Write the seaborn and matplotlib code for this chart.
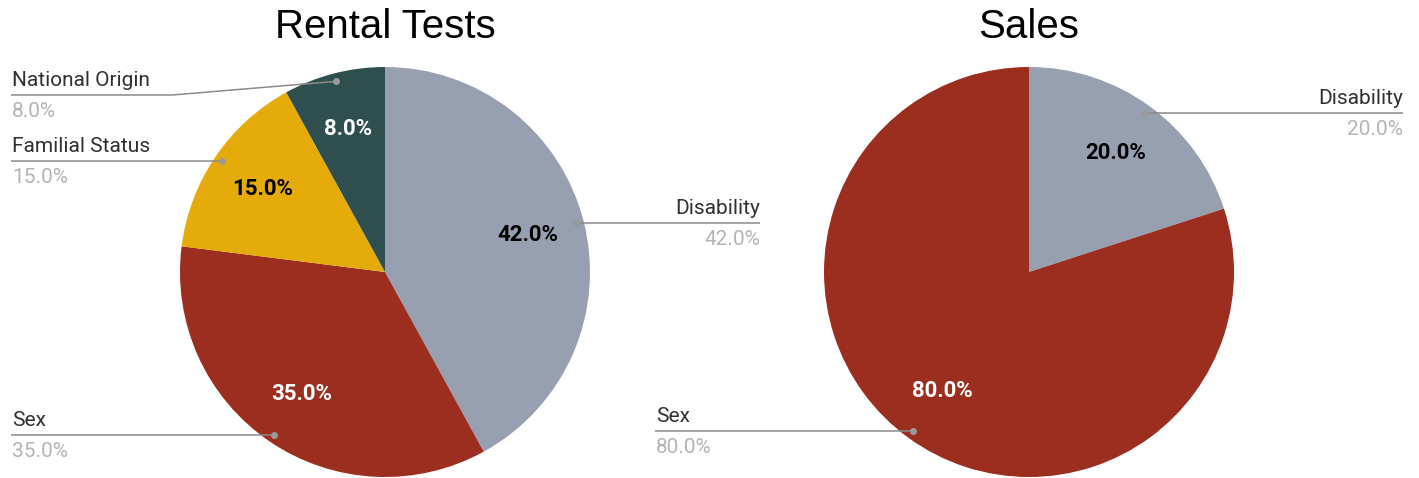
import numpy as np
import matplotlib.pyplot as plt
import seaborn as sns

# data
rental_labels = ["Disability", "Sex", "Familial Status", "National Origin"]
rental_values = [42.0, 35.0, 15.0, 8.0]
sales_labels = ["Disability", "Sex"]
sales_values = [20.0, 80.0]

palette = {
    "Disability": "#97a0b0",
    "Sex": "#9c2e20",
    "Familial Status": "#e5ab0a",
    "National Origin": "#2f4f4f",
}
inner_color = {
    "Disability": "black",
    "Sex": "white",
    "Familial Status": "black",
    "National Origin": "white",
}

sns.set_theme(style="white")
plt.rcParams["font.family"] = ["Roboto", "DejaVu Sans"]

W, H = 1419, 478
fig = plt.figure(figsize=(W / 100, H / 100), dpi=100)
ax = fig.add_axes([0, 0, 1, 1])
R = 205


def draw_pie(cx, cy, labels, values, title, callouts):
    wedges, _, autotexts = ax.pie(
        values,
        colors=[palette[l] for l in labels],
        startangle=90,
        counterclock=False,
        center=(cx, cy),
        radius=R,
        autopct="%.1f%%",
        pctdistance=0.72,
        wedgeprops=dict(linewidth=0),
        textprops=dict(fontsize=16, fontweight="bold"),
        frame=True,
    )
    for t, l in zip(autotexts, labels):
        t.set_color(inner_color[l])
    ax.text(cx, H - 27, title, ha="center", va="center", fontsize=29,
            family="Liberation Sans", color="black")

    # callouts with leader lines
    for w, l, v in zip(wedges, labels, values):
        mid = np.deg2rad((w.theta1 + w.theta2) / 2)
        px = cx + 0.96 * R * np.cos(mid)
        py = cy + 0.96 * R * np.sin(mid)
        x_end, y_line, elbow = callouts[l]
        if y_line is None:
            y_line = py
        if elbow is None:
            xs, ys = [px, x_end], [py, y_line]
        else:
            xs, ys = [px, elbow, x_end], [py, y_line, y_line]
        ax.plot(xs, ys, color="#8a8a8a", lw=1.1, solid_capstyle="butt")
        ax.plot(px, py, "o", ms=4, color="#9a9a9a")
        ha = "left" if x_end < px else "right"
        tx = x_end + 1 if ha == "left" else x_end
        ax.text(tx, y_line + 5, l, ha=ha, va="bottom", fontsize=15,
                color="#303030")
        ax.text(tx, y_line - 7, f"{v:.1f}%", ha=ha, va="top", fontsize=15,
                color="#b4b4b4")


draw_pie(385, H - 272, rental_labels, rental_values, "Rental Tests", {
    "Disability": (760, None, None),
    "Sex": (11, None, None),
    "Familial Status": (11, None, None),
    "National Origin": (11, H - 95, 172),
})
draw_pie(1029, H - 272, sales_labels, sales_values, "Sales", {
    "Disability": (1403, None, None),
    "Sex": (655, None, None),
})

ax.set_xlim(0, W)
ax.set_ylim(0, H)
ax.set_aspect("equal")
ax.set_axis_off()

fig.savefig("out.png", dpi=100)
